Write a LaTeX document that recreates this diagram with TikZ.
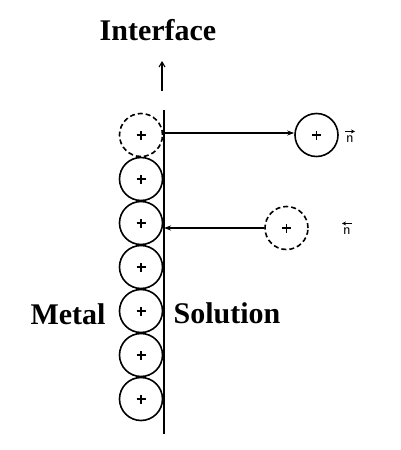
\documentclass[tikz,border=0pt]{standalone}
\usepackage{fontspec}
\setmainfont{Liberation Serif}
\usetikzlibrary{arrows.meta}
\begin{document}
\begin{tikzpicture}[x=1pt,y=-1pt,
  ion/.style={circle, draw, solid, line width=1.6pt, minimum size=43pt, inner sep=0pt,
    path picture={\draw[solid, line width=1.5pt]
      ([xshift=-4.5pt]path picture bounding box.center) -- ([xshift=4.5pt]path picture bounding box.center)
      ([yshift=-4.5pt]path picture bounding box.center) -- ([yshift=4.5pt]path picture bounding box.center);}},
  dion/.style={ion, dash pattern=on 5pt off 3pt},
  lbl/.style={font=\fontsize{30}{32}\selectfont\bfseries, inner sep=0pt},
  nlbl/.style={font=\sffamily\fontsize{15}{15}\selectfont, inner sep=0pt},
  mv/.style={line width=1.2pt, -{Stealth[length=7pt,width=5pt]}},
  vecar/.style={line width=1pt, -{Stealth[length=4pt,width=4pt]}}
]
\useasboundingbox (0,0) rectangle (400,450);
% interface line
\coordinate (ltop) at (164,110);
\coordinate (lbot) at (164,434);
\draw[line width=2pt] (ltop) -- (lbot);
% labels
\node[lbl] (iface) at (158,30) {Interface};
\coordinate (aup0) at (162,91);
\coordinate (aup1) at (162,61);
\draw[line width=1.1pt, -{Straight Barb[length=5pt,width=6pt]}] (aup0) -- (aup1);
\node[lbl] (metal) at (68,314) {Metal};
\node[lbl] (sol) at (227,313) {Solution};
% metal ions
\node[dion] (d0) at (141,135) {};
\foreach \i/\y in {1/179,2/223,3/267,4/311,5/355,6/399}
  \node[ion] (m\i) at (141,\y) {};
% solution ions
\node[ion] (s1) at (316.5,135) {};
\node[dion] (s2) at (286.5,228) {};
% arrows
\coordinate (a1) at (164,133);
\draw[mv] (a1) -- (s1.west |- a1);
\coordinate (a2) at (164,228);
\draw[mv] (s2.west) -- (a2);
% vector n labels
\node[nlbl] (n1) at (350,139) {n};
\draw[vecar] ([xshift=-5pt,yshift=4pt]n1.north) -- ([xshift=5pt,yshift=4pt]n1.north);
\node[nlbl] (n2) at (347,231) {n};
\draw[vecar] ([xshift=5pt,yshift=4pt]n2.north) -- ([xshift=-5pt,yshift=4pt]n2.north);
\end{tikzpicture}
\end{document}
